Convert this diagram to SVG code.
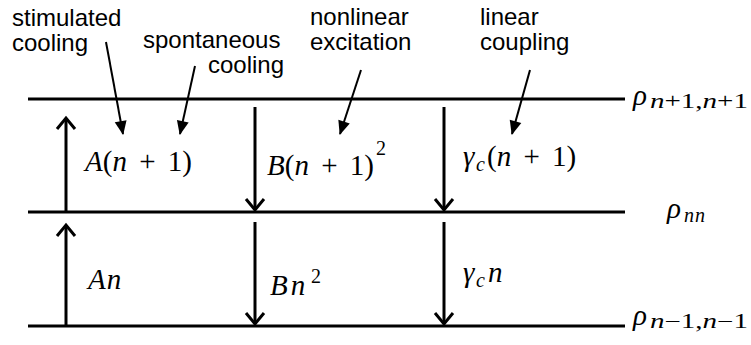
<svg xmlns="http://www.w3.org/2000/svg" width="751" height="345" viewBox="0 0 751 345">
<style>
.lvl{stroke:#000;stroke-width:3;fill:none}
.tr{stroke:#000;stroke-width:3;fill:none}
.ptr{stroke:#000;stroke-width:2;fill:none}
.lab{font-family:"Liberation Sans",Arial,sans-serif;font-size:24px;fill:#000}
.m{font-family:"Liberation Serif",serif;font-size:29px;fill:#000}
.i{font-style:italic}
.sub{font-family:"Liberation Serif",serif;font-size:20px;fill:#000}
</style>
<defs>
<marker id="chev" markerUnits="userSpaceOnUse" markerWidth="30" markerHeight="30" viewBox="-15 -15 30 30" refX="0" refY="0" orient="auto" overflow="visible">
<path d="M-11,-9 L0,0 L-11,9" fill="none" stroke="#000" stroke-width="3"/>
</marker>
<marker id="tri" markerUnits="userSpaceOnUse" markerWidth="30" markerHeight="30" viewBox="-15 -15 30 30" refX="0" refY="0" orient="auto" overflow="visible">
<path d="M-13,-6 L1,0 L-13,6 Z" fill="#000"/>
</marker>
</defs>

<g id="levels">
<line class="lvl" x1="28" y1="99" x2="625" y2="99"/>
<line class="lvl" x1="28" y1="212" x2="625" y2="212"/>
<line class="lvl" x1="28" y1="326" x2="625" y2="326"/>
</g>

<g id="connectors">
<line class="tr" x1="66" y1="212" x2="66" y2="118" marker-end="url(#chev)"/>
<line class="tr" x1="66" y1="326" x2="66" y2="225" marker-end="url(#chev)"/>
<line class="tr" x1="255" y1="107" x2="255" y2="210" marker-end="url(#chev)"/>
<line class="tr" x1="255" y1="222" x2="255" y2="324" marker-end="url(#chev)"/>
<line class="tr" x1="444" y1="107" x2="444" y2="210" marker-end="url(#chev)"/>
<line class="tr" x1="444" y1="222" x2="444" y2="324" marker-end="url(#chev)"/>
<line class="ptr" x1="106" y1="42" x2="123" y2="134" marker-end="url(#tri)"/>
<line class="ptr" x1="195" y1="66" x2="180" y2="134" marker-end="url(#tri)"/>
<line class="ptr" x1="361" y1="70" x2="340" y2="134" marker-end="url(#tri)"/>
<line class="ptr" x1="530" y1="70" x2="512" y2="134" marker-end="url(#tri)"/>
</g>

<g id="label-stimulated">
<text class="lab" x="12" y="26">stimulated</text>
<text class="lab" x="12" y="51">cooling</text>
</g>
<g id="label-spontaneous">
<text class="lab" x="143" y="48">spontaneous</text>
<text class="lab" x="208" y="73">cooling</text>
</g>
<g id="label-nonlinear">
<text class="lab" x="310" y="25">nonlinear</text>
<text class="lab" x="310" y="50">excitation</text>
</g>
<g id="label-linear">
<text class="lab" x="480" y="25">linear</text>
<text class="lab" x="480" y="50">coupling</text>
</g>

<g id="rate-A1">
<text class="m" x="85" y="171" word-spacing="5"><tspan class="i">A</tspan>(<tspan class="i">n</tspan> + 1)</text>
</g>
<g id="rate-B1">
<text class="m" x="267" y="175" word-spacing="5"><tspan class="i">B</tspan>(<tspan class="i">n</tspan> + 1)</text>
<text class="sub" x="376" y="155">2</text>
</g>
<g id="rate-g1">
<text class="m i" x="463" y="166">γ</text>
<text class="sub i" x="476" y="171">c</text>
<text class="m" x="487" y="166" word-spacing="5">(<tspan class="i">n</tspan> + 1)</text>
</g>
<g id="rate-A0">
<text class="m i" x="88" y="289" letter-spacing="1">An</text>
</g>
<g id="rate-B0">
<text class="m i" x="270" y="295" letter-spacing="3">Bn</text>
<text class="sub" x="311" y="283">2</text>
</g>
<g id="rate-g0">
<text class="m i" x="463" y="282">γ</text>
<text class="sub i" x="476" y="287">c</text>
<text class="m i" x="488" y="282">n</text>
</g>

<g id="rho-top">
<text class="m i" x="633" y="105">ρ</text>
<text class="sub" x="650" y="108" textLength="98" lengthAdjust="spacingAndGlyphs"><tspan class="i">n</tspan>+1,<tspan class="i">n</tspan>+1</text>
</g>
<g id="rho-mid">
<text class="m i" x="667" y="218">ρ</text>
<text class="sub i" x="684" y="222" letter-spacing="1">nn</text>
</g>
<g id="rho-bot">
<text class="m i" x="633" y="325">ρ</text>
<text class="sub" x="650" y="328" textLength="98" lengthAdjust="spacingAndGlyphs"><tspan class="i">n</tspan>−1,<tspan class="i">n</tspan>−1</text>
</g>
</svg>
